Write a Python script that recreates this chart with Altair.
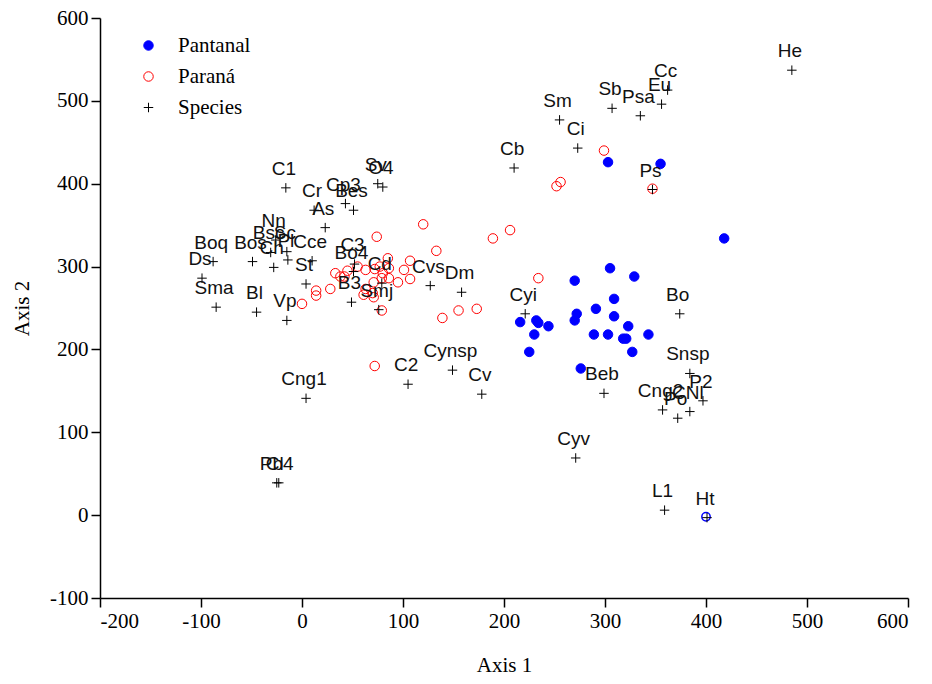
import altair as alt
import pandas as pd

# Pantanal (filled blue)
pantanal_x = [303, 355, 418, 305, 329, 270, 309, 291, 272, 309, 270, 216, 232, 234, 244, 323, 230, 289, 303, 318, 321, 343, 225, 327, 276]
pantanal_y = [426, 424, 334, 298, 288, 283, 261, 249, 243, 240, 235, 233, 235, 232, 228, 228, 218, 218, 218, 213, 213, 218, 197, 197, 177]
# Pantanal point drawn open (at Ht)
pantanal_open_x = [400]
pantanal_open_y = [-2]

# Paraná (open red)
parana_x = [299, 256, 252, 347, 206, 189, 234, 120, 133, 155, 173, 139, 74, 85, 107, 63, 72, 77, 86, 101, 107, 86, 95, 33, 38, 42, 28, 14, 14, 0, 61, 71, 70, 63, 79, 71, 79, 72, 55, 80, 45]
parana_y = [440, 402, 397, 394, 344, 334, 286, 351, 319, 247, 249, 238, 336, 310, 307, 296, 297, 300, 298, 296, 285, 286, 281, 292, 288, 288, 273, 271, 265, 255, 266, 263, 268, 273, 286, 281, 247, 180, 300, 292, 295]

# Species (+ with labels)
species_names = ["He", "Cc", "Eu", "Psa", "Sb", "Sm", "Ci", "Cb", "Ps", "Bo", "Cyi", "Snsp", "P2", "Cng2", "Po", "CNl",
                 "Beb", "Cyv", "L1", "Ht", "Cng1", "C2", "Cynsp", "Cv", "Cl", "Pb4", "C1", "Sv", "O4", "Cr", "Cp3",
                 "Bes", "As", "Nn", "Bsc", "Sc", "Boq", "Bos", "Pl", "Cce", "Ch", "Ds", "Sma", "Bl", "Vp", "St",
                 "C3", "Bo4", "Cd", "B3", "Smj", "Cvs", "Dm"]
species_x = [485, 362, 356, 335, 307, 255, 273, 210, 347, 374, 221, 384, 397, 357, 372, 384,
             299, 271, 359, 401, 4, 105, 149, 178, -25, -23, -16, 75, 80, 12, 43,
             51, 23, -26, -31, -15, -88, -49, -14, 10, -28, -99, -85, -45, -15, 4,
             52, 51, 79, 49, 76, 127, 158]
species_y = [537, 513, 496, 482, 491, 477, 443, 419, 393, 243, 243, 171, 138, 127, 117, 125,
             147, 69, 6, -3, 141, 158, 175, 146, 39, 39, 395, 400, 396, 368, 376,
             368, 347, 332, 317, 318, 306, 306, 308, 307, 299, 286, 251, 245, 235, 279,
             303, 294, 280, 257, 248, 277, 269]

groups = ["Pantanal", "Paraná", "Species"]

rows = []
for x, y in zip(pantanal_x, pantanal_y):
    rows.append({"x": x, "y": y, "group": "Pantanal", "label": ""})
for x, y in zip(parana_x, parana_y):
    rows.append({"x": x, "y": y, "group": "Paraná", "label": ""})
for n, x, y in zip(species_names, species_x, species_y):
    rows.append({"x": x, "y": y, "group": "Species", "label": n})
df = pd.DataFrame(rows)
df_sp = df[df.group == "Species"]
df_open = pd.DataFrame({"x": pantanal_open_x, "y": pantanal_open_y})

plus_path = "M-1,0L1,0M0,-1L0,1"

xs = alt.Scale(domain=[-200, 600], nice=False, zero=False)
ys = alt.Scale(domain=[-100, 600], nice=False, zero=False)
xax = alt.Axis(values=list(range(-200, 601, 100)), title="Axis 1", titlePadding=23,
               labelExpr="'' + datum.value")
yax = alt.Axis(values=list(range(-100, 601, 100)), title="Axis 2", titlePadding=17,
               labelExpr="'' + datum.value")

leg = alt.Legend(title=None, orient="none", legendX=38, legendY=17)

points = alt.Chart(df).mark_point(strokeWidth=1, opacity=1).encode(
    x=alt.X("x:Q", scale=xs, axis=xax),
    y=alt.Y("y:Q", scale=ys, axis=yax),
    shape=alt.Shape("group:N", scale=alt.Scale(domain=groups, range=["circle", "circle", plus_path]), legend=leg),
    stroke=alt.Stroke("group:N", scale=alt.Scale(domain=groups, range=["#0000ff", "#ff0000", "#000000"]), legend=leg),
    fill=alt.Fill("group:N", scale=alt.Scale(domain=groups, range=["#0000ff", "transparent", "transparent"]), legend=leg),
    size=alt.Size("group:N", scale=alt.Scale(domain=groups, range=[90, 90, 64]), legend=leg),
)

open_pt = alt.Chart(df_open).mark_point(strokeWidth=1.5, opacity=1, filled=False, color="#0000ff", size=70).encode(
    x=alt.X("x:Q", scale=xs),
    y=alt.Y("y:Q", scale=ys),
)

labels = alt.Chart(df_sp).mark_text(
    font="Liberation Sans", fontSize=19, dx=-2, dy=-19, color="#111111", baseline="middle", align="center"
).encode(
    x=alt.X("x:Q", scale=xs),
    y=alt.Y("y:Q", scale=ys),
    text="label:N",
)

chart = alt.layer(open_pt, points, labels).properties(
    width=808, height=580,
    autosize=alt.AutoSizeParams(type="none"),
    padding={"left": 92, "top": 10, "right": 16, "bottom": 78},
).configure_view(stroke=None).configure_axis(
    grid=False, domainColor="black", domainWidth=1.5, tickColor="black", tickWidth=1.5, tickSize=9,
    labelFont="Liberation Serif", labelFontSize=21, labelColor="black", labelPadding=3,
    titleFont="Liberation Serif", titleFontSize=21, titleFontWeight="normal", titleColor="black",
).configure_legend(
    labelFont="Liberation Serif", labelFontSize=21, labelColor="black",
    symbolStrokeWidth=1, labelOffset=19, rowPadding=9, padding=0,
)

chart.save("out.html", embed_options={"renderer": "svg", "actions": False})
